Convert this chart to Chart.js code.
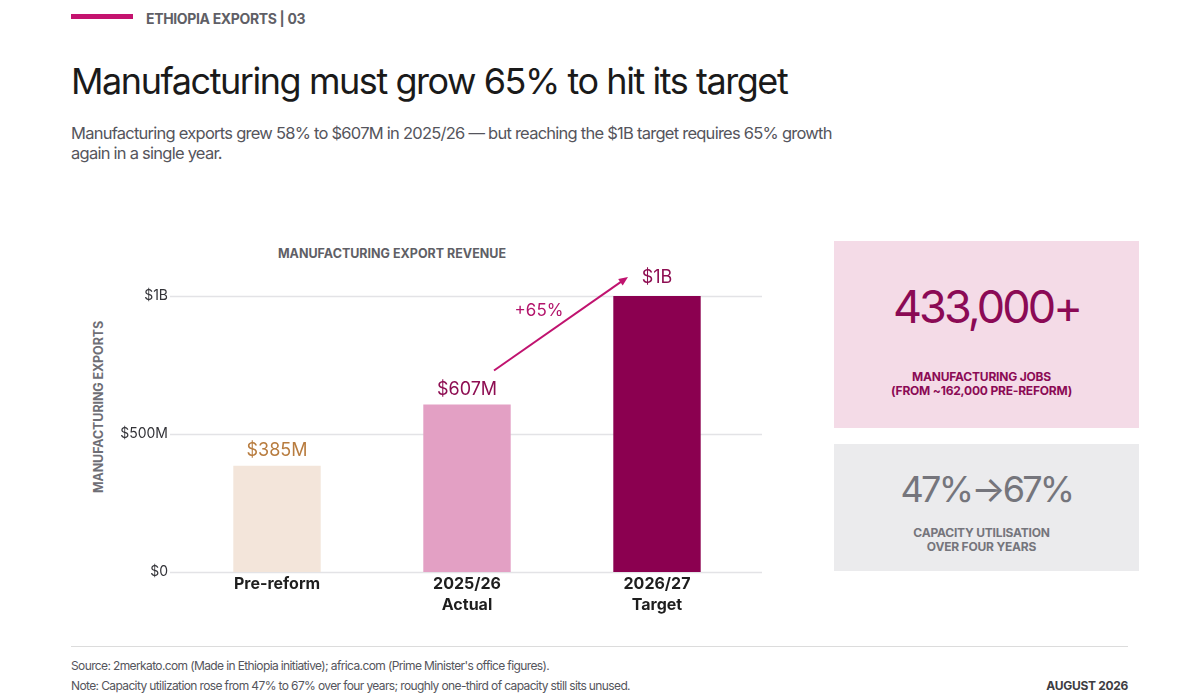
<!DOCTYPE html>
<html>
<head>
<meta charset="utf-8">
<script src="https://cdn.jsdelivr.net/npm/chart.js@4.4.1/dist/chart.umd.min.js"></script>
<style>
  html,body{margin:0;padding:0;background:#fff;}
  body{width:1200px;height:700px;position:relative;overflow:hidden;font-family:Inter,"Noto Sans",sans-serif;}
  .abs{position:absolute;}
  #kbar{left:71px;top:14px;width:62px;height:5px;background:#c4136f;}
  #kicker{left:146px;top:10px;font-size:14px;font-weight:700;color:#5f5f66;letter-spacing:-0.35px;line-height:18px;}
  #title{left:71px;top:58px;font-size:36px;font-weight:400;color:#1a1a1a;letter-spacing:-1.45px;line-height:46px;white-space:nowrap;}
  #sub{left:71px;top:123px;width:780px;font-size:16.5px;color:#55555c;line-height:20px;letter-spacing:-0.75px;}
  #ctitle{left:200px;width:384px;text-align:center;top:246px;font-size:12.5px;font-weight:700;color:#5f5f66;letter-spacing:0px;line-height:16px;}
  #ytitle{left:98px;top:407px;transform:translate(-50%,-50%) rotate(-90deg);font-size:12.5px;font-weight:700;color:#6e6e75;white-space:nowrap;letter-spacing:-0.1px;}
  #wrap{left:100px;top:250px;width:680px;height:370px;}
  .card{left:834px;width:305px;text-align:center;}
  #card1{top:241px;height:187px;background:#f4dbe7;}
  #card2{top:444px;height:127px;background:#ebebed;}
  #big1{position:absolute;left:0;right:0;top:38px;font-size:45px;color:#8b0a55;line-height:56px;letter-spacing:-2.9px;}
  #lab1{position:absolute;left:0;right:10px;top:129px;font-size:12px;font-weight:700;color:#8b0a55;line-height:14px;letter-spacing:-0.2px;}
  #big2{position:absolute;left:0;right:0;top:22px;font-size:36px;color:#75757c;line-height:46px;letter-spacing:-2.8px;}
  #lab2{position:absolute;left:0;right:10px;top:82px;font-size:12px;font-weight:700;color:#75757c;line-height:14px;letter-spacing:-0.2px;}
  #rule{left:71px;top:646px;width:1057px;height:1px;background:#dcdcdc;}
  #src{left:71px;top:658px;font-size:12px;color:#55555c;line-height:16px;letter-spacing:-0.62px;}
  #note{left:71px;top:678px;font-size:12px;color:#55555c;line-height:16px;letter-spacing:-0.62px;}
  #date{right:72px;top:678px;font-size:12px;font-weight:700;color:#3d3d42;line-height:16px;letter-spacing:-0.3px;}
</style>
</head>
<body>
<div class="abs" id="kbar"></div>
<div class="abs" id="kicker">ETHIOPIA EXPORTS | 03</div>
<div class="abs" id="title">Manufacturing must grow 65% to hit its target</div>
<div class="abs" id="sub">Manufacturing exports grew 58% to $607M in 2025/26 — but reaching the $1B target requires 65% growth again in a single year.</div>
<div class="abs" id="ctitle">MANUFACTURING EXPORT REVENUE</div>
<div class="abs" id="ytitle">MANUFACTURING EXPORTS</div>
<div class="abs" id="wrap"><canvas id="c" width="680" height="370"></canvas></div>
<div class="abs card" id="card1"><div id="big1">433,000+</div><div id="lab1">MANUFACTURING JOBS<br>(FROM ~162,000 PRE-REFORM)</div></div>
<div class="abs card" id="card2"><div id="big2">47%→67%</div><div id="lab2">CAPACITY UTILISATION<br>OVER FOUR YEARS</div></div>
<div class="abs" id="rule"></div>
<div class="abs" id="src">Source: 2merkato.com (Made in Ethiopia initiative); africa.com (Prime Minister's office figures).</div>
<div class="abs" id="note">Note: Capacity utilization rose from 47% to 67% over four years; roughly one-third of capacity still sits unused.</div>
<div class="abs" id="date">AUGUST 2026</div>
<script>
const categories = [["Pre-reform"], ["2025/26", "Actual"], ["2026/27", "Target"]];
const valuesM = [385, 607, 1000];
const valueLabels = ["$385M", "$607M", "$1B"];
const tickValues = [0, 500, 1000];
const tickLabels = ["$0", "$500M", "$1B"];
const growthLabel = "+65%";

const barColors = ["#f3e5da", "#e3a0c4", "#8b0050"];
const labelColors = ["#b87c3f", "#8e0e52", "#8e0e52"];

const gridPlugin = {
  id: "grid",
  beforeDatasetsDraw(chart) {
    const {ctx, chartArea, scales} = chart;
    ctx.save();
    ctx.strokeStyle = "#e3e3e6";
    ctx.lineWidth = 1.5;
    tickValues.forEach(v => {
      const y = Math.round(scales.y.getPixelForValue(v)) + 0.5;
      ctx.beginPath();
      ctx.moveTo(chartArea.left - 12, y);
      ctx.lineTo(chartArea.right + 10, y);
      ctx.stroke();
    });
    ctx.restore();
  }
};

const labelPlugin = {
  id: "labels",
  afterDatasetsDraw(chart) {
    const {ctx} = chart;
    const bars = chart.getDatasetMeta(0).data;
    ctx.save();
    ctx.font = "400 18px Inter";
    ctx.textAlign = "center";
    ctx.textBaseline = "middle";
    bars.forEach((b, i) => {
      ctx.fillStyle = labelColors[i];
      ctx.fillText(valueLabels[i], b.x, b.y - (i === 2 ? 18 : 15));
    });
    const a = bars[1], t = bars[2];
    const x1 = a.x + 27, y1 = a.y - 34;
    const x2 = t.x - 29, y2 = t.y - 19;
    ctx.strokeStyle = "#c0136f";
    ctx.fillStyle = "#c0136f";
    ctx.lineWidth = 2;
    const ang = Math.atan2(y2 - y1, x2 - x1);
    const hl = 10;
    ctx.beginPath();
    ctx.moveTo(x1, y1);
    ctx.lineTo(x2 - Math.cos(ang) * hl * 0.6, y2 - Math.sin(ang) * hl * 0.6);
    ctx.stroke();
    ctx.beginPath();
    ctx.moveTo(x2, y2);
    ctx.lineTo(x2 - hl * Math.cos(ang - 0.4), y2 - hl * Math.sin(ang - 0.4));
    ctx.lineTo(x2 - hl * Math.cos(ang + 0.4), y2 - hl * Math.sin(ang + 0.4));
    ctx.closePath();
    ctx.fill();
    ctx.font = "400 17px Inter";
    ctx.fillStyle = "#b3146b";
    ctx.fillText(growthLabel, (x1 + x2) / 2 - 22, (y1 + y2) / 2 - 13);
    ctx.restore();
  }
};

new Chart(document.getElementById("c"), {
  type: "bar",
  data: {
    labels: categories,
    datasets: [{
      data: valuesM,
      backgroundColor: barColors,
      borderWidth: 0,
      barPercentage: 0.46,
      categoryPercentage: 1
    }]
  },
  options: {
    responsive: false,
    animation: false,
    devicePixelRatio: 1,
    layout: {padding: {top: 46, right: 28, left: 0, bottom: 0}},
    plugins: {legend: {display: false}, tooltip: {enabled: false}},
    scales: {
      x: {
        grid: {display: false, drawTicks: false},
        border: {display: false},
        ticks: {
          color: "#1e1e1e",
          font: {family: "Inter", size: 16, weight: "700", lineHeight: 1.3},
          padding: 2
        },
        afterFit(s) { s.height = 48; }
      },
      y: {
        min: 0, max: 1000,
        grid: {display: false},
        border: {display: false},
        afterBuildTicks(s) { s.ticks = tickValues.map(v => ({value: v})); },
        ticks: {
          color: "#333338",
          font: {family: "Inter", size: 14},
          padding: 6,
          callback(v) { return tickLabels[tickValues.indexOf(v)]; }
        },
        afterFit(s) { s.width = 82; }
      }
    }
  },
  plugins: [gridPlugin, labelPlugin]
});
</script>
</body>
</html>
